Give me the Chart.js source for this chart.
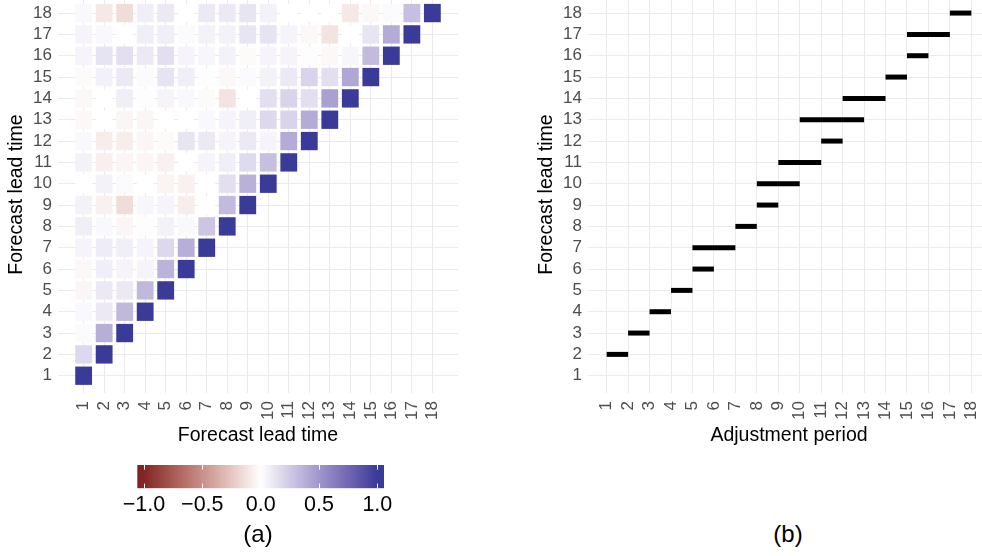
<!DOCTYPE html>
<html>
<head>
<meta charset="utf-8">
<script src="https://cdn.jsdelivr.net/npm/chart.js@4.4.1/dist/chart.umd.min.js"></script>
<style>
  html, body { margin: 0; padding: 0; background: #fff; }
  body { position: relative; width: 982px; height: 556px; overflow: hidden; }
  canvas { position: absolute; }
  .tag {
    position: absolute; top: 534px; transform: translate(-50%, -50%);
    font: 24px "Liberation Sans", Arial, sans-serif; color: #000; line-height: 1;
  }
</style>
</head>
<body>
<canvas id="heat" width="491" height="467" style="left:0;top:-4px"></canvas>
<canvas id="periods" width="460" height="467" style="left:530px;top:-4px"></canvas>
<canvas id="scale" width="491" height="80" style="left:0;top:455px"></canvas>
<div class="tag" style="left:258px">(a)</div>
<div class="tag" style="left:788px">(b)</div>
<script>
// lead times 1..18 used on every axis
const leadTimes = [1, 2, 3, 4, 5, 6, 7, 8, 9, 10, 11, 12, 13, 14, 15, 16, 17, 18];

// lower triangle of the correlation matrix, row i = lead time i, columns 1..i
const correlations = [
  [1],
  [0.18, 1],
  [0.02, 0.38, 1],
  [0.03, 0.1, 0.33, 1],
  [-0.04, 0.1, 0.1, 0.33, 1],
  [-0.03, 0.08, 0.05, 0.05, 0.36, 1],
  [0.05, 0.09, 0.08, 0.05, 0.18, 0.38, 1],
  [0.08, 0.03, -0.04, 0.01, 0.06, 0.03, 0.27, 1],
  [0.06, -0.06, -0.15, 0.04, 0.05, -0.08, 0, 0.32, 1],
  [0, 0.06, 0.02, 0, -0.05, -0.06, 0, 0.15, 0.37, 1],
  [0.06, -0.07, -0.04, -0.04, -0.06, 0, 0.05, 0.08, 0.17, 0.3, 1],
  [0.03, -0.08, -0.08, -0.04, -0.02, 0.12, 0.1, 0.05, 0.1, 0.05, 0.4, 1],
  [-0.03, 0, -0.04, -0.04, 0, 0, 0.03, 0.05, 0.08, 0.18, 0.2, 0.4, 1],
  [-0.03, 0, 0.08, -0.01, 0.05, 0.03, -0.02, -0.12, 0, 0.15, 0.2, 0.15, 0.45, 1],
  [-0.02, 0.07, 0.1, 0.02, 0.13, 0.08, -0.01, -0.03, 0.02, 0.06, 0.1, 0.2, 0.15, 0.42, 1],
  [0.05, 0.13, 0.15, 0.1, 0.15, 0.05, 0.04, 0.06, -0.02, 0.05, 0.05, 0.01, -0.03, 0.04, 0.32, 1],
  [0.05, 0.03, 0, 0.08, 0.08, 0.02, 0.06, 0.06, 0.12, 0.13, 0.05, -0.03, -0.12, 0, 0.12, 0.4, 1],
  [0.03, -0.1, -0.15, 0.08, 0.1, 0, 0.1, 0.1, 0.12, 0.06, 0, 0, 0, -0.1, -0.03, 0.02, 0.3, 1],
];

// adjustment period per lead time (panel b)
const periodLead = [2, 3, 4, 5, 6, 7, 8, 9, 10, 11, 12, 13, 14, 15, 16, 17, 18];
const periodStart = [1, 2, 3, 4, 5, 5, 7, 8, 8, 9, 11, 10, 12, 14, 15, 15, 17];
const periodEnd = [2, 3, 4, 5, 6, 7, 8, 9, 10, 11, 12, 13, 14, 15, 16, 17, 18];

const colorbarTicks = [-1, -0.5, 0, 0.5, 1];

// diverging fill, interpolated in Lab like scale_fill_gradient2
const LOW = '#832424';
const MID = '#ffffff';
const HIGH = '#3a3a98';
const D65 = [0.95047, 1, 1.08883];

const hexToRgb = (h) => [1, 3, 5].map((i) => parseInt(h.slice(i, i + 2), 16));
const toLinear = (c) => {
  const v = c / 255;
  return v <= 0.04045 ? v / 12.92 : Math.pow((v + 0.055) / 1.055, 2.4);
};
const fromLinear = (c) => {
  const v = c <= 0.0031308 ? 12.92 * c : 1.055 * Math.pow(c, 1 / 2.4) - 0.055;
  return Math.round(Math.min(1, Math.max(0, v)) * 255);
};

function rgbToLab(rgb) {
  const [r, g, b] = rgb.map(toLinear);
  const x = (0.4124564 * r + 0.3575761 * g + 0.1804375 * b) / D65[0];
  const y = (0.2126729 * r + 0.7151522 * g + 0.0721750 * b) / D65[1];
  const z = (0.0193339 * r + 0.1191920 * g + 0.9503041 * b) / D65[2];
  const f = (t) => (t > 216 / 24389 ? Math.cbrt(t) : (24389 / 27 * t + 16) / 116);
  const fx = f(x);
  const fy = f(y);
  const fz = f(z);
  return [116 * fy - 16, 500 * (fx - fy), 200 * (fy - fz)];
}

function labToRgb([L, a, b]) {
  const fy = (L + 16) / 116;
  const fx = fy + a / 500;
  const fz = fy - b / 200;
  const inv = (t) => (t * t * t > 216 / 24389 ? t * t * t : (116 * t - 16) / (24389 / 27));
  const x = inv(fx) * D65[0];
  const y = inv(fy) * D65[1];
  const z = inv(fz) * D65[2];
  const r = 3.2404542 * x - 1.5371385 * y - 0.4985314 * z;
  const g = -0.9692660 * x + 1.8760108 * y + 0.0415560 * z;
  const bl = 0.0556434 * x - 0.2040259 * y + 1.0572252 * z;
  return [r, g, bl].map(fromLinear);
}

const labLow = rgbToLab(hexToRgb(LOW));
const labMid = rgbToLab(hexToRgb(MID));
const labHigh = rgbToLab(hexToRgb(HIGH));

function fillFor(value) {
  const v = Math.max(-1, Math.min(1, value));
  const end = v < 0 ? labLow : labHigh;
  const t = Math.abs(v);
  const lab = labMid.map((m, i) => m + (end[i] - m) * t);
  const [r, g, b] = labToRgb(lab);
  return `rgb(${r},${g},${b})`;
}

Chart.defaults.font.family = '"Liberation Sans", Arial, sans-serif';
Chart.defaults.animation = false;
Chart.defaults.responsive = false;
Chart.defaults.devicePixelRatio = 1;
Chart.defaults.events = [];
Chart.defaults.plugins.legend.display = false;
Chart.defaults.plugins.tooltip.enabled = false;

const TICK_COLOR = '#4d4d4d';
const GRID_COLOR = '#ebebeb';

// shared axis setup for both panels
function leadAxis(axis, min, max, titleText) {
  const isX = axis === 'x';
  return {
    type: 'linear',
    min,
    max,
    offset: false,
    afterBuildTicks: (scale) => { scale.ticks = leadTimes.map((value) => ({ value })); },
    afterFit: (scale) => {
      if (isX) scale.height = 70; else scale.width = 58;
      scale.paddingLeft = 0;
      scale.paddingRight = 0;
      scale.paddingTop = 0;
      scale.paddingBottom = 0;
    },
    ticks: {
      autoSkip: false,
      color: TICK_COLOR,
      font: { size: 17 },
      padding: isX ? 8 : 6,
      minRotation: isX ? 90 : 0,
      maxRotation: isX ? 90 : 0,
      callback: (v) => String(v),
    },
    grid: { color: GRID_COLOR, lineWidth: 1, drawTicks: false, offset: false },
    border: { display: false },
    title: {
      display: true,
      text: titleText,
      color: '#000',
      font: { size: 19.5 },
      padding: isX ? { bottom: 16 } : { top: 5 },
    },
  };
}

// panel (a): tiles as floating bars on a linear x scale
const tiles = [];
correlations.forEach((row, r) => {
  row.forEach((v, c) => {
    tiles.push({ x: leadTimes[c], y: [leadTimes[r] - 0.43, leadTimes[r] + 0.43], v });
  });
});

new Chart(document.getElementById('heat'), {
  type: 'bar',
  data: {
    datasets: [{
      data: tiles,
      backgroundColor: (ctx) => fillFor(ctx.raw ? ctx.raw.v : 0),
      borderWidth: 0,
      barPercentage: 0.82,
      categoryPercentage: 1,
    }],
  },
  options: {
    layout: { padding: { left: 0, right: 33, top: 0, bottom: 0 } },
    scales: {
      x: leadAxis('x', -0.25, 19.25, 'Forecast lead time'),
      y: leadAxis('y', 0.19, 18.8, 'Forecast lead time'),
    },
  },
});

// panel (b): one thick segment per lead time
const segments = periodLead.map((lead, i) => ({
  data: [{ x: periodStart[i], y: lead }, { x: periodEnd[i], y: lead }],
  borderColor: '#000',
  borderWidth: 5,
  borderCapStyle: 'butt',
  pointRadius: 0,
  showLine: true,
}));

new Chart(document.getElementById('periods'), {
  type: 'scatter',
  data: { datasets: segments },
  options: {
    layout: { padding: 0 },
    scales: {
      x: leadAxis('x', 0.13, 18.87, 'Adjustment period'),
      y: leadAxis('y', 0.19, 18.8, 'Forecast lead time'),
    },
  },
});

// colour bar legend for panel (a)
const BAR_MIN = -1.057;
const BAR_MAX = 1.057;

const barTicks = {
  id: 'barTicks',
  afterDatasetsDraw(chart) {
    const { ctx, chartArea, scales } = chart;
    const len = (chartArea.bottom - chartArea.top) / 5;
    ctx.save();
    ctx.strokeStyle = '#fff';
    ctx.lineWidth = 1;
    colorbarTicks.forEach((t) => {
      const px = Math.round(scales.x.getPixelForValue(t)) + 0.5;
      ctx.beginPath();
      ctx.moveTo(px, chartArea.top);
      ctx.lineTo(px, chartArea.top + len);
      ctx.moveTo(px, chartArea.bottom - len);
      ctx.lineTo(px, chartArea.bottom);
      ctx.stroke();
    });
    ctx.restore();
  },
};

new Chart(document.getElementById('scale'), {
  type: 'bar',
  data: {
    labels: ['fill'],
    datasets: [{
      data: [[BAR_MIN, BAR_MAX]],
      borderWidth: 0,
      barPercentage: 1,
      categoryPercentage: 1,
      backgroundColor: (ctx) => {
        const { chart } = ctx;
        const xs = chart.scales.x;
        if (!chart.chartArea || !xs) return fillFor(0);
        const grad = chart.ctx.createLinearGradient(
          xs.getPixelForValue(BAR_MIN), 0, xs.getPixelForValue(BAR_MAX), 0,
        );
        const steps = 60;
        for (let i = 0; i <= steps; i += 1) {
          const v = BAR_MIN + (BAR_MAX - BAR_MIN) * (i / steps);
          grad.addColorStop(i / steps, fillFor(v));
        }
        return grad;
      },
    }],
  },
  options: {
    indexAxis: 'y',
    layout: { padding: { left: 137.3, right: 107, top: 10, bottom: 0 } },
    scales: {
      x: {
        type: 'linear',
        min: BAR_MIN,
        max: BAR_MAX,
        afterBuildTicks: (scale) => { scale.ticks = colorbarTicks.map((value) => ({ value })); },
        afterFit: (scale) => {
          scale.height = 46.7;
          scale.paddingLeft = 0;
          scale.paddingRight = 0;
        },
        ticks: {
          color: '#000',
          font: { size: 21.5 },
          padding: -4,
          maxRotation: 0,
          autoSkip: false,
          callback: (v) => v.toFixed(1).replace('-', '\u2212'),
        },
        grid: { display: false },
        border: { display: false },
      },
      y: { display: false },
    },
  },
  plugins: [barTicks],
});
</script>
</body>
</html>
